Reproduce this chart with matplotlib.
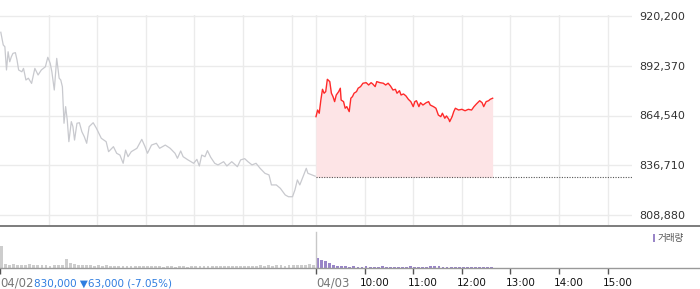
import matplotlib
matplotlib.use("Agg")
import matplotlib.pyplot as plt
from matplotlib.lines import Line2D
from matplotlib.patches import Rectangle
from matplotlib.ticker import FuncFormatter
from matplotlib.transforms import blended_transform_factory, offset_copy

# ---------------- data ----------------
# 04/02 : minutes after 09:00, price
day1_minutes = [1, 4, 6, 8, 10, 12, 14, 16, 19, 21, 23, 27, 29, 32, 35, 39, 43, 47, 51, 56,
                59, 62, 64, 67, 70, 73, 75, 77, 79, 81, 83, 85, 88, 90, 92, 95, 98, 101, 104, 107,
                110, 115, 119, 122, 125, 131, 134, 140, 144, 148, 152, 155, 158, 162, 169, 175, 179, 182, 187, 193,
                197, 204, 210, 216, 219, 223, 226, 232, 239, 243, 246, 249, 253, 256, 260, 265, 269, 276, 280, 286,
                293, 297, 302, 306, 311, 316, 321, 327, 332, 335, 341, 346, 352, 356, 361, 364, 367, 370, 374, 378,
                380, 389]
day1_prices = [911100, 904000, 903000, 890000, 900200, 894600, 897400, 899300, 899700, 895600,
               890000, 889000, 890900, 884400, 885400, 882500, 890900, 887200, 890000, 891800,
               897100, 893700, 889000, 878800, 896500, 885400, 884400, 880600, 860200, 869500,
               862000, 849900, 861100, 858300, 850800, 860200, 860500, 855500, 852700, 849000,
               858300, 860500, 857400, 854600, 851800, 849900, 844300, 847100, 843400, 842400,
               837800, 845200, 841500, 844300, 846200, 851200, 847100, 843400, 848000, 849000,
               846200, 848000, 846200, 843400, 840600, 844700, 841500, 839700, 837800, 840000,
               836300, 842400, 841500, 844900, 841200, 837800, 836900, 838700, 836300, 838700,
               835900, 839700, 840400, 838700, 836900, 837800, 835000, 832200, 831300, 825700,
               825700, 823800, 820100, 819100, 819100, 822900, 828500, 825700, 830300, 835000,
               832200, 830600]

# 04/03 : minutes after 09:00, price
day2_minutes = [0, 2, 4, 6, 8, 10, 12, 14, 17, 19, 21, 23, 25, 28, 30, 31, 34, 36, 38, 41,
                43, 45, 47, 50, 52, 55, 58, 62, 65, 68, 70, 73, 75, 79, 83, 86, 89, 92, 95, 98,
                100, 103, 105, 108, 111, 114, 117, 120, 122, 124, 127, 129, 132, 136, 139, 141, 145, 148, 151, 154,
                156, 159, 161, 164, 165, 168, 170, 172, 176, 180, 184, 188, 192, 195, 198, 202, 205, 207, 210, 213,
                215, 218]
day2_prices = [863900, 867600, 865800, 873200, 879200, 877000, 877900, 884800, 883500, 877000,
               875100, 872300, 876000, 877900, 879800, 873200, 872300, 868600, 869500, 866700,
               874200, 875100, 877000, 877900, 879800, 880700, 882600, 882900, 881600, 882900,
               882200, 880700, 883500, 882900, 882600, 881600, 882600, 881000, 878800, 879200,
               877000, 878400, 876000, 876600, 875500, 873600, 872300, 869500, 872300, 872800,
               869500, 871700, 870400, 871700, 872300, 870400, 869500, 868600, 864800, 863900,
               865800, 863000, 864300, 862400, 861100, 863900, 866700, 868600, 867600, 868000,
               867200, 868000, 867600, 869500, 871000, 872800, 871700, 869500, 872300, 872800,
               873600, 874200]

prev_close = 830000
y_ticks = [808880, 836710, 864540, 892370, 920200]

# volume, thousand shares per 5-minute bin
vol_bin = 5
day1_vol = [22, 4, 3.5, 4, 3, 3.5, 3, 4, 3, 3, 3.5, 3, 2.5, 3, 3, 3.5, 9, 5, 4, 3.5,
            3, 3, 3.5, 2.5, 3, 2.5, 3, 2.5, 2, 2.5, 2, 2, 2.5, 2, 2, 2, 2.5, 2, 2, 2,
            1.5, 2, 2, 1.5, 2, 2, 1.5, 2, 2, 2, 2.5, 2, 2, 2, 2, 2.5, 2, 2, 2.5, 2,
            2, 2.5, 2, 2.5, 3, 2.5, 3, 2.5, 3, 3, 2.5, 3, 3.5, 3, 3, 3.5, 4, 3.5]
day2_vol = [10, 8, 7, 5, 3, 2.5, 2, 2, 1.5, 2, 1.5, 1.5, 2, 1.5, 1.5, 1.5, 2, 1.5, 1.5, 1.5,
            1.5, 1.5, 1.5, 2, 1.5, 1.5, 1.5, 1.5, 2, 2.5, 2, 1.5, 1, 1.5, 1.5, 1, 1.5, 1, 1.5, 1,
            1, 1.5, 1, 1]

date1_label = "04/02"
summary_label = "830,000 \u25BC63,000 (-7.05%)"
date2_label = "04/03"
hour_labels = ["10:00", "11:00", "12:00", "13:00", "14:00", "15:00"]
legend_label = "거래량"

# ---------------- layout ----------------
plt.rcParams['font.family'] = ['DejaVu Sans']
W, H = 700, 289
fig = plt.figure(figsize=(W / 100, H / 100), dpi=100)
fig.patch.set_facecolor('white')


def fy(py):
    return 1 - py / H


session = 390          # minutes per session 09:00-15:30
x_end = 2 * session
plot_right = 632

ppx = (y_ticks[-1] - y_ticks[0]) / (215 - 16)

ax = fig.add_axes([0, fy(225), plot_right / W, (225 - 15) / H])
ax.set_xlim(0, x_end)
ax.set_ylim(y_ticks[0] - 10 * ppx, y_ticks[-1] + 1 * ppx)
for s in ax.spines.values():
    s.set_visible(False)

hour_grid = [60 * k for k in range(1, 7)] + [session] + [session + 60 * k for k in range(1, 7)]
ax.set_xticks(hour_grid)
ax.set_yticks(y_ticks)
ax.grid(True, color='#ebebeb', lw=1)
ax.set_axisbelow(True)
ax.tick_params(axis='x', length=0, labelbottom=False)
ax.yaxis.tick_right()
ax.tick_params(axis='y', length=0, pad=5, labelsize=8, labelcolor='#333333')
ax.yaxis.set_major_formatter(FuncFormatter(lambda v, p: f"{int(round(v)):,}"))

# day 1 grey line
ax.plot(day1_minutes, day1_prices, color='#c8c9ce', lw=0.9, zorder=3)
# day 2
x2 = [session + m for m in day2_minutes]
ax.fill_between(x2, day2_prices, prev_close, color='#fde4e6', lw=0, zorder=2)
ax.plot(x2, day2_prices, color='#ff2a2a', lw=1.0, zorder=4)
ax.plot([session, x_end], [prev_close, prev_close], color='#555555', lw=0.8,
        linestyle=(0, (1, 1.3)), zorder=3)

# ---------------- volume panel ----------------
axv = fig.add_axes([0, fy(268), plot_right / W, (268 - 226) / H])
axv.set_xlim(0, x_end)
axv.set_ylim(0, 42)
for s in axv.spines.values():
    s.set_visible(False)
axv.set_yticks([])
v1x = [i * vol_bin for i in range(len(day1_vol))]
v2x = [session + i * vol_bin for i in range(len(day2_vol))]
axv.bar(v1x, day1_vol, width=vol_bin * 0.7, align='edge', color='#cdcdcd', lw=0)
axv.bar(v2x, day2_vol, width=vol_bin * 0.7, align='edge', color='#9a86c8', lw=0)
axv.axvline(session, ymax=(268 - 232) / 42, color='#c8c8c8', lw=1)

tick_pos = [0, session] + [session + 60 * k for k in range(1, 7)]
axv.set_xticks(tick_pos)
axv.tick_params(axis='x', length=4, width=1, color='#555555', direction='out', labelbottom=False)

# frame lines
fig.add_artist(Line2D([0, 1], [fy(225.5), fy(225.5)], color='#666666', lw=1.2,
                      transform=fig.transFigure))
fig.add_artist(Line2D([0, 1], [fy(268), fy(268)], color='#999999', lw=1,
                      transform=fig.transFigure))

# bottom labels
trans = blended_transform_factory(axv.transData, fig.transFigure)
ly = fy(283)
fs = 7.5
fs_date = 8.4
axv.text(0, ly, date1_label, transform=trans, ha='left', va='center', fontsize=fs_date, color='#777777')
axv.text(0, ly, summary_label, transform=offset_copy(trans, fig=fig, x=33.5, y=0, units='dots'),
         ha='left', va='center', fontsize=fs, color='#2f7de0')
axv.text(session, ly, date2_label, transform=offset_copy(trans, fig=fig, x=0.5, y=0, units='dots'),
         ha='left', va='center', fontsize=fs_date, color='#777777')
for k, lab in enumerate(hour_labels, start=1):
    axv.text(session + 60 * k, ly, lab, transform=offset_copy(trans, fig=fig, x=-5, y=0, units='dots'),
             ha='left', va='center', fontsize=fs, color='#111111')

# legend
fig.add_artist(Rectangle((653.3 / W, fy(242)), 2.2 / W, 8 / H, transform=fig.transFigure,
                         color='#9a86c8', lw=0))
fig.text(657 / W, fy(238), legend_label, ha='left', va='center', fontsize=6.9, color='#555555',
         family=['Noto Sans CJK KR', 'DejaVu Sans'])

fig.savefig('out.png', dpi=100, facecolor='white')
